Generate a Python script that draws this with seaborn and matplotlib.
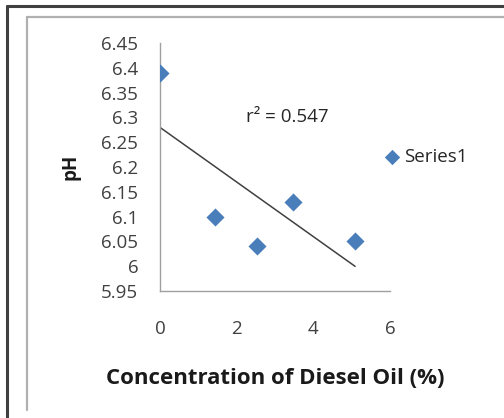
import matplotlib
matplotlib.use("Agg")
import matplotlib.pyplot as plt
from matplotlib.lines import Line2D
import seaborn as sns
import pandas as pd

# data
concentration = [0.0, 1.43, 2.53, 3.47, 5.09]
ph_values = [6.39, 6.10, 6.04, 6.13, 6.05]
x_ticks = [0, 2, 4, 6]
y_ticks = [5.95, 6.0, 6.05, 6.1, 6.15, 6.2, 6.25, 6.3, 6.35, 6.4, 6.45]
r2_label = "r² = 0.547"
series_name = "Series1"

df = pd.DataFrame({"conc": concentration, "ph": ph_values})

sns.set_theme(style="white")
plt.rcParams["font.family"] = ["Open Sans", "DejaVu Sans"]

fig = plt.figure(figsize=(5.04, 4.18), dpi=100)
ax = fig.add_axes([160 / 504, 1 - 291 / 418, 230 / 504, 248 / 418])

blue = "#4a7ebb"
sns.scatterplot(data=df, x="conc", y="ph", marker="D", s=85, color=blue,
                edgecolor=blue, linewidth=0, ax=ax, label=series_name, zorder=3)
sns.regplot(data=df, x="conc", y="ph", scatter=False, ci=None, ax=ax,
            line_kws={"color": "#404040", "linewidth": 1.1})

ax.set_xlim(0, 6)
ax.set_ylim(5.95, 6.45)
ax.set_xticks(x_ticks)
ax.set_yticks(y_ticks)
ax.set_xticklabels([str(t) for t in x_ticks])
ax.set_yticklabels([f"{t:g}" for t in y_ticks])

for side in ["top", "right"]:
    ax.spines[side].set_visible(False)
for side in ["left", "bottom"]:
    ax.spines[side].set_color("#a0a0a0")
    ax.spines[side].set_linewidth(1.0)
ax.tick_params(axis="both", direction="out", length=3.6, width=1,
               color="#a0a0a0", labelsize=13.5, labelcolor="#404040")
ax.tick_params(axis="x", pad=17)
ax.tick_params(axis="y", pad=12)

ax.set_xlabel("Concentration of Diesel Oil (%)", fontsize=16,
              fontweight="bold", color="#1a1a1a", labelpad=22)
ax.set_ylabel("pH", fontsize=13.5, fontweight="bold", color="#1a1a1a",
              labelpad=15)

ax.text(2.24, 6.30, r2_label, fontsize=13.5, color="#262626",
        ha="left", va="center")

ax.legend(loc="center left", bbox_to_anchor=(386 / 504, 1 - 157 / 418),
          bbox_transform=fig.transFigure, frameon=False, fontsize=13.5,
          handlelength=0.6, handletextpad=0.35, markerscale=0.85,
          borderpad=0, borderaxespad=0)

# outer dark frame and inner gray frame (left and top edges only)
W, H = 504, 418
frame = [
    ((7, 7), (6, 418), "#404040", 2.2),
    ((7, 504), (6, 6), "#404040", 2.2),
    ((27, 27), (17, 410), "#b0b0b0", 1.6),
    ((27, 504), (17, 17), "#b0b0b0", 1.6),
]
for xs, ys, col, lw in frame:
    fig.add_artist(Line2D([x / W for x in xs], [1 - y / H for y in ys],
                          color=col, linewidth=lw, transform=fig.transFigure))

fig.savefig("out.png", dpi=100)
